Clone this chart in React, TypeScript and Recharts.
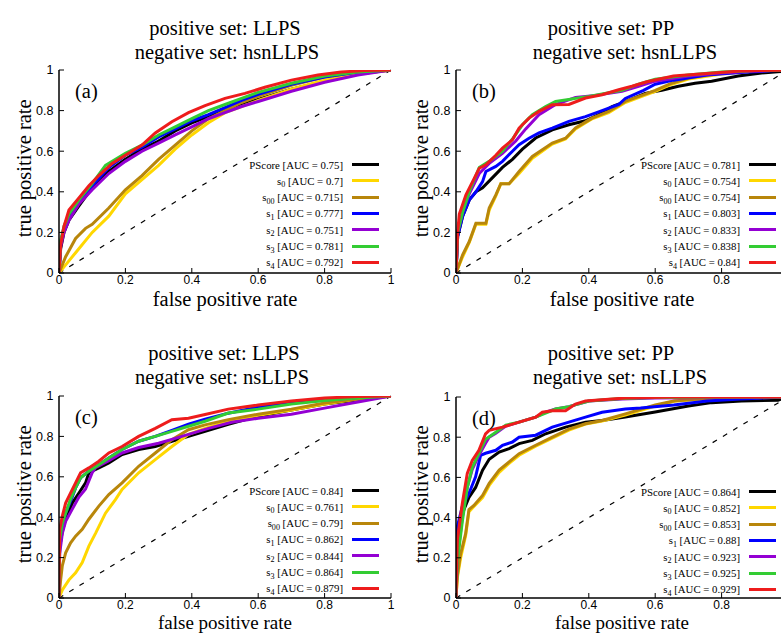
import React from 'react';
import { LineChart, Line, XAxis, YAxis, ReferenceLine } from 'recharts';

type Pt = [number, number];

// series order as drawn (last one on top)
const SERIES_BASE = ['PScore', 's', 's', 's', 's', 's', 's'];
const SERIES_SUB = ['', '0', '00', '1', '2', '3', '4'];
const COLORS = ['#000000', '#ffd700', '#b8860b', '#0000ff', '#9400d3', '#33cc33', '#ee1c1c'];
const TICKS = [0, 0.2, 0.4, 0.6, 0.8, 1];

const aucA = [0.75, 0.7, 0.715, 0.777, 0.751, 0.781, 0.792];
const aucB = [0.781, 0.754, 0.754, 0.803, 0.833, 0.838, 0.84];
const aucC = [0.84, 0.761, 0.79, 0.862, 0.844, 0.864, 0.879];
const aucD = [0.864, 0.852, 0.853, 0.88, 0.923, 0.925, 0.929];

// (a) LLPS vs hsnLLPS
const aPScore: Pt[] = [[0,0],[0.005,0.12],[0.015,0.2],[0.03,0.26],[0.06,0.33],[0.1,0.42],[0.15,0.5],[0.2,0.56],[0.25,0.61],[0.3,0.65],[0.35,0.7],[0.4,0.74],[0.45,0.77],[0.5,0.8],[0.55,0.83],[0.6,0.855],[0.7,0.905],[0.8,0.945],[0.9,0.98],[1,1]];
const aS0: Pt[] = [[0,0],[0.02,0.04],[0.05,0.1],[0.1,0.2],[0.15,0.28],[0.2,0.39],[0.25,0.46],[0.3,0.53],[0.35,0.61],[0.4,0.68],[0.45,0.74],[0.5,0.79],[0.55,0.82],[0.6,0.85],[0.7,0.905],[0.8,0.95],[0.9,0.98],[1,1]];
const aS00: Pt[] = [[0,0],[0.02,0.08],[0.05,0.17],[0.08,0.22],[0.1,0.24],[0.15,0.32],[0.2,0.41],[0.25,0.48],[0.3,0.56],[0.35,0.63],[0.4,0.7],[0.45,0.76],[0.5,0.8],[0.55,0.84],[0.6,0.87],[0.7,0.925],[0.8,0.965],[0.9,0.99],[1,1]];
const aS1: Pt[] = [[0,0],[0.005,0.15],[0.015,0.22],[0.03,0.28],[0.06,0.35],[0.1,0.43],[0.15,0.52],[0.2,0.58],[0.25,0.62],[0.3,0.67],[0.35,0.71],[0.4,0.75],[0.45,0.78],[0.5,0.815],[0.55,0.85],[0.6,0.88],[0.7,0.93],[0.8,0.965],[0.9,0.99],[1,1]];
const aS2: Pt[] = [[0,0],[0.005,0.13],[0.015,0.2],[0.03,0.26],[0.06,0.34],[0.1,0.41],[0.15,0.49],[0.2,0.55],[0.25,0.6],[0.3,0.64],[0.35,0.68],[0.4,0.72],[0.45,0.76],[0.5,0.79],[0.55,0.82],[0.6,0.845],[0.7,0.895],[0.8,0.94],[0.9,0.975],[1,1]];
const aS3: Pt[] = [[0,0],[0.005,0.16],[0.015,0.23],[0.03,0.29],[0.06,0.36],[0.1,0.44],[0.14,0.53],[0.2,0.59],[0.25,0.63],[0.3,0.68],[0.35,0.72],[0.4,0.76],[0.45,0.8],[0.5,0.83],[0.55,0.86],[0.6,0.89],[0.7,0.935],[0.8,0.97],[0.9,0.99],[1,1]];
const aS4: Pt[] = [[0,0],[0.005,0.14],[0.015,0.23],[0.03,0.31],[0.06,0.37],[0.09,0.43],[0.12,0.48],[0.16,0.54],[0.2,0.58],[0.25,0.63],[0.29,0.69],[0.34,0.745],[0.39,0.79],[0.44,0.825],[0.5,0.86],[0.56,0.885],[0.62,0.915],[0.7,0.95],[0.78,0.975],[0.85,0.99],[0.92,0.997],[1,1]];

// (b) PP vs hsnLLPS
const bPScore: Pt[] = [[0,0],[0.005,0.18],[0.02,0.28],[0.04,0.36],[0.06,0.4],[0.08,0.42],[0.11,0.47],[0.14,0.52],[0.17,0.56],[0.2,0.61],[0.24,0.665],[0.29,0.705],[0.34,0.73],[0.39,0.75],[0.43,0.78],[0.47,0.82],[0.52,0.85],[0.57,0.885],[0.62,0.9],[0.67,0.92],[0.72,0.935],[0.77,0.945],[0.85,0.97],[0.92,0.985],[0.98,0.993],[1,1]];
const bS0: Pt[] = [[0,0],[0.02,0.08],[0.04,0.15],[0.06,0.24],[0.09,0.24],[0.1,0.31],[0.12,0.38],[0.135,0.44],[0.16,0.44],[0.19,0.49],[0.23,0.565],[0.29,0.635],[0.33,0.66],[0.36,0.71],[0.41,0.76],[0.46,0.79],[0.51,0.84],[0.56,0.87],[0.6,0.895],[0.65,0.93],[0.7,0.955],[0.8,0.98],[0.9,0.995],[1,1]];
const bS00: Pt[] = [[0,0],[0.02,0.09],[0.04,0.155],[0.06,0.245],[0.09,0.245],[0.1,0.32],[0.12,0.385],[0.135,0.44],[0.16,0.44],[0.19,0.5],[0.23,0.574],[0.29,0.64],[0.33,0.664],[0.36,0.714],[0.41,0.763],[0.46,0.796],[0.51,0.845],[0.56,0.875],[0.6,0.9],[0.65,0.935],[0.7,0.96],[0.8,0.985],[0.9,0.995],[1,1]];
const bS1: Pt[] = [[0,0],[0.005,0.18],[0.02,0.28],[0.04,0.36],[0.06,0.4],[0.08,0.45],[0.09,0.5],[0.12,0.525],[0.14,0.55],[0.17,0.6],[0.19,0.632],[0.22,0.664],[0.25,0.69],[0.29,0.714],[0.34,0.747],[0.39,0.77],[0.44,0.8],[0.49,0.83],[0.51,0.86],[0.565,0.9],[0.6,0.93],[0.655,0.95],[0.755,0.975],[0.856,0.988],[1,1]];
const bS2: Pt[] = [[0,0],[0.005,0.2],[0.02,0.3],[0.04,0.39],[0.07,0.49],[0.1,0.54],[0.14,0.59],[0.18,0.65],[0.21,0.71],[0.25,0.78],[0.3,0.83],[0.36,0.865],[0.42,0.875],[0.5,0.895],[0.55,0.92],[0.6,0.945],[0.7,0.97],[0.8,0.985],[0.9,0.995],[1,1]];
const bS3: Pt[] = [[0,0],[0.005,0.2],[0.02,0.3],[0.04,0.4],[0.07,0.52],[0.1,0.55],[0.14,0.6],[0.17,0.66],[0.2,0.73],[0.23,0.78],[0.27,0.82],[0.3,0.845],[0.4,0.87],[0.5,0.9],[0.55,0.93],[0.6,0.955],[0.7,0.975],[0.8,0.99],[0.9,0.997],[1,1]];
const bS4: Pt[] = [[0,0],[0.005,0.2],[0.01,0.29],[0.03,0.385],[0.05,0.45],[0.07,0.516],[0.09,0.533],[0.12,0.58],[0.14,0.615],[0.17,0.656],[0.19,0.714],[0.22,0.763],[0.25,0.796],[0.29,0.829],[0.34,0.83],[0.39,0.862],[0.44,0.878],[0.49,0.903],[0.53,0.92],[0.575,0.942],[0.655,0.97],[0.755,0.983],[0.856,0.995],[1,1]];

// (c) LLPS vs nsLLPS
const cPScore: Pt[] = [[0,0],[0.002,0.25],[0.01,0.33],[0.02,0.39],[0.04,0.47],[0.06,0.52],[0.08,0.57],[0.09,0.62],[0.12,0.644],[0.15,0.669],[0.19,0.71],[0.24,0.735],[0.29,0.75],[0.34,0.776],[0.39,0.8],[0.44,0.825],[0.51,0.86],[0.6,0.9],[0.7,0.93],[0.8,0.96],[0.9,0.98],[1,1]];
const cS0: Pt[] = [[0,0],[0.01,0.04],[0.03,0.09],[0.05,0.125],[0.07,0.175],[0.09,0.257],[0.11,0.32],[0.14,0.42],[0.17,0.487],[0.19,0.537],[0.24,0.62],[0.29,0.685],[0.34,0.75],[0.39,0.81],[0.44,0.84],[0.51,0.875],[0.6,0.905],[0.7,0.93],[0.8,0.96],[0.9,0.985],[1,1]];
const cS00: Pt[] = [[0,0],[0.005,0.09],[0.01,0.16],[0.02,0.224],[0.035,0.273],[0.05,0.306],[0.07,0.34],[0.09,0.39],[0.12,0.455],[0.15,0.512],[0.19,0.57],[0.24,0.652],[0.29,0.718],[0.34,0.784],[0.39,0.833],[0.44,0.857],[0.51,0.883],[0.6,0.91],[0.7,0.935],[0.8,0.965],[0.9,0.985],[1,1]];
const cS1: Pt[] = [[0,0],[0.002,0.28],[0.01,0.36],[0.02,0.42],[0.04,0.5],[0.05,0.545],[0.065,0.595],[0.09,0.628],[0.12,0.66],[0.15,0.693],[0.19,0.735],[0.24,0.776],[0.29,0.8],[0.34,0.83],[0.39,0.86],[0.44,0.885],[0.51,0.915],[0.6,0.945],[0.7,0.965],[0.8,0.98],[0.9,0.993],[1,1]];
const cS2: Pt[] = [[0,0],[0.002,0.22],[0.01,0.32],[0.02,0.38],[0.04,0.44],[0.06,0.5],[0.08,0.54],[0.1,0.62],[0.11,0.645],[0.15,0.68],[0.19,0.718],[0.24,0.745],[0.3,0.766],[0.35,0.79],[0.4,0.815],[0.45,0.84],[0.52,0.87],[0.6,0.89],[0.7,0.91],[0.8,0.94],[0.9,0.97],[1,1]];
const cS3: Pt[] = [[0,0],[0.002,0.29],[0.01,0.37],[0.02,0.42],[0.035,0.49],[0.05,0.545],[0.065,0.595],[0.09,0.628],[0.12,0.66],[0.15,0.693],[0.19,0.735],[0.24,0.776],[0.29,0.8],[0.34,0.825],[0.39,0.85],[0.44,0.875],[0.51,0.916],[0.6,0.935],[0.7,0.96],[0.8,0.978],[0.9,0.99],[1,1]];
const cS4: Pt[] = [[0,0],[0.002,0.34],[0.01,0.405],[0.02,0.47],[0.035,0.52],[0.05,0.57],[0.065,0.62],[0.09,0.644],[0.12,0.677],[0.15,0.718],[0.19,0.75],[0.24,0.8],[0.29,0.84],[0.34,0.883],[0.39,0.89],[0.44,0.908],[0.51,0.935],[0.6,0.955],[0.7,0.975],[0.8,0.99],[0.9,0.997],[1,1]];

// (d) PP vs nsLLPS
const dPScore: Pt[] = [[0,0],[0.004,0.25],[0.019,0.42],[0.039,0.5],[0.059,0.55],[0.08,0.636],[0.1,0.69],[0.13,0.726],[0.16,0.743],[0.19,0.768],[0.23,0.784],[0.27,0.817],[0.33,0.85],[0.39,0.875],[0.44,0.883],[0.51,0.9],[0.6,0.925],[0.7,0.955],[0.77,0.972],[0.86,0.98],[0.97,0.984],[1,1]];
const dS0: Pt[] = [[0,0],[0.004,0.1],[0.014,0.2],[0.029,0.31],[0.039,0.43],[0.054,0.455],[0.08,0.5],[0.1,0.56],[0.13,0.625],[0.16,0.67],[0.19,0.71],[0.24,0.755],[0.29,0.795],[0.34,0.835],[0.39,0.865],[0.44,0.88],[0.51,0.91],[0.6,0.955],[0.66,0.98],[0.75,0.99],[1,1]];
const dS00: Pt[] = [[0,0],[0.004,0.11],[0.014,0.22],[0.029,0.32],[0.039,0.44],[0.054,0.46],[0.08,0.51],[0.1,0.57],[0.13,0.636],[0.16,0.677],[0.19,0.718],[0.24,0.76],[0.29,0.8],[0.34,0.84],[0.39,0.867],[0.44,0.883],[0.51,0.916],[0.6,0.96],[0.656,0.98],[0.75,0.993],[1,1]];
const dS1: Pt[] = [[0,0],[0.004,0.355],[0.019,0.455],[0.039,0.52],[0.059,0.603],[0.074,0.71],[0.089,0.72],[0.12,0.735],[0.14,0.76],[0.17,0.776],[0.19,0.8],[0.24,0.81],[0.29,0.85],[0.34,0.875],[0.39,0.9],[0.44,0.924],[0.51,0.94],[0.556,0.945],[0.656,0.96],[0.756,0.98],[0.857,0.99],[1,1]];
const dS2: Pt[] = [[0,0],[0.004,0.2],[0.019,0.4],[0.034,0.55],[0.049,0.64],[0.069,0.71],[0.089,0.77],[0.1,0.8],[0.12,0.82],[0.15,0.855],[0.19,0.875],[0.24,0.9],[0.27,0.925],[0.3,0.94],[0.34,0.952],[0.4,0.98],[0.5,0.99],[0.6,0.995],[1,1]];
const dS3: Pt[] = [[0,0],[0.004,0.18],[0.019,0.38],[0.034,0.55],[0.049,0.65],[0.069,0.72],[0.089,0.79],[0.12,0.825],[0.15,0.86],[0.19,0.875],[0.24,0.9],[0.3,0.94],[0.34,0.952],[0.4,0.98],[0.5,0.993],[0.6,0.997],[1,1]];
const dS4: Pt[] = [[0,0],[0.004,0.29],[0.019,0.47],[0.034,0.62],[0.049,0.685],[0.069,0.735],[0.089,0.817],[0.1,0.834],[0.14,0.85],[0.19,0.875],[0.24,0.9],[0.26,0.924],[0.29,0.932],[0.33,0.932],[0.36,0.965],[0.39,0.98],[0.51,0.995],[0.65,1],[1,1]];

const SERIF = '"Liberation Serif", "Times New Roman", serif';
const SANS = '"Liberation Sans", Arial, sans-serif';

const toRows = (pts: Pt[]) => pts.map(([x, y]) => ({ x, y }));

// right-hand panels are cut by the page edge, so their "1" x label is not shown
const panels = [
  { letter: '(a)', pos: 'LLPS', neg: 'hsnLLPS', auc: aucA, curves: [aPScore, aS0, aS00, aS1, aS2, aS3, aS4],
    left: 0, top: 0, h: 320, plotLeft: 59, plotTop: 70, plotH: 203, t1: 225, t2: 227, ty: 28, cut: false },
  { letter: '(b)', pos: 'PP', neg: 'hsnLLPS', auc: aucB, curves: [bPScore, bS0, bS00, bS1, bS2, bS3, bS4],
    left: 390, top: 0, h: 320, plotLeft: 66, plotTop: 70, plotH: 203, t1: 221, t2: 235, ty: 28, cut: true },
  { letter: '(c)', pos: 'LLPS', neg: 'nsLLPS', auc: aucC, curves: [cPScore, cS0, cS00, cS1, cS2, cS3, cS4],
    left: 0, top: 320, h: 313, plotLeft: 59, plotTop: 76, plotH: 202, t1: 224, t2: 222, ty: 33, cut: false },
  { letter: '(d)', pos: 'PP', neg: 'nsLLPS', auc: aucD, curves: [dPScore, dS0, dS00, dS1, dS2, dS3, dS4],
    left: 390, top: 320, h: 313, plotLeft: 66, plotTop: 77, plotH: 201, t1: 221, t2: 230, ty: 33, cut: true },
];

const PLOT_W = 332;
const CHART_W = 400;

const centered = (x: number, y: number, size: number): React.CSSProperties => ({
  position: 'absolute', left: x - 200, top: y - size * 0.5, width: 400, textAlign: 'center',
  fontFamily: SERIF, fontSize: size, lineHeight: `${size}px`, whiteSpace: 'nowrap', color: '#000',
});

const Panel = ({ p }: { p: typeof panels[number] }) => {
  const right = CHART_W - p.plotLeft - PLOT_W;
  const bottom = p.h - p.plotTop - p.plotH - 30;
  const textEnd = p.plotLeft + PLOT_W - 48;
  // on the bottom row the x title sits against the page edge: slightly smaller so it stays inside
  const lowRow = p.plotTop + p.plotH + 26 > p.h - 11;
  const xTitleSize = lowRow ? 19 : 20.5;
  const xTitleY = lowRow ? p.h - 10.5 : p.plotTop + p.plotH + 26;
  return (
    <div style={{ position: 'absolute', left: p.left, top: p.top, width: CHART_W, height: p.h }}>
      <div style={centered(p.t1, p.ty, 20.5)}>positive set: {p.pos}</div>
      <div style={centered(p.t2, p.ty + 24, 20.5)}>negative set: {p.neg}</div>
      <LineChart width={CHART_W} height={p.h} margin={{ top: p.plotTop, right, left: 0, bottom }}>
        <XAxis dataKey="x" type="number" domain={[0, 1]} ticks={TICKS} interval={0} allowDataOverflow height={30}
          tickSize={-5} tickMargin={7.5} axisLine={{ stroke: '#000', strokeWidth: 1.5 }} tickLine={{ stroke: '#000' }}
          tickFormatter={(v: number) => (p.cut && v === 1 ? '' : String(v))}
          tick={{ fill: '#000', fontSize: 12, fontFamily: SANS }} />
        <XAxis xAxisId="top" orientation="top" type="number" domain={[0, 1]} ticks={TICKS} interval={0} height={0}
          tickSize={-5} tick={false} axisLine={{ stroke: '#000', strokeWidth: 1.5 }} tickLine={{ stroke: '#000' }} />
        <YAxis type="number" domain={[0, 1]} ticks={TICKS} interval={0} allowDataOverflow width={p.plotLeft}
          tickSize={-5} tickMargin={10.5} axisLine={{ stroke: '#000', strokeWidth: 1.5 }} tickLine={{ stroke: '#000' }}
          tick={{ fill: '#000', fontSize: 12.5, fontFamily: SANS }} />
        <YAxis yAxisId="right" orientation="right" type="number" domain={[0, 1]} ticks={TICKS} interval={0} width={0}
          tickSize={-5} tick={false} axisLine={{ stroke: '#000', strokeWidth: 1.5 }} tickLine={{ stroke: '#000' }} />
        <ReferenceLine segment={[{ x: 0, y: 0 }, { x: 1, y: 1 }]} stroke="#000" strokeWidth={1.2} strokeDasharray="5 7" />
        {p.curves.map((c, i) => (
          <Line key={i} data={toRows(c)} dataKey="y" type="linear" stroke={COLORS[i]} strokeWidth={3}
            dot={false} activeDot={false} isAnimationActive={false} />
        ))}
      </LineChart>
      <div style={{ position: 'absolute', left: p.plotLeft + 16, top: p.plotTop + 21 - 12,
        fontFamily: SERIF, fontSize: 20.5, lineHeight: '24px' }}>{p.letter}</div>
      <div style={centered(p.plotLeft + PLOT_W / 2, xTitleY, xTitleSize)}>false positive rate</div>
      <div style={{ ...centered(p.plotLeft - 35, p.plotTop + p.plotH / 2 - 3, 20.5), transform: 'rotate(-90deg)' }}>
        true positive rate
      </div>
      {SERIES_BASE.map((b, i) => {
        const cy = p.plotTop + 94.5 + i * 16.33;
        return (
          <React.Fragment key={i}>
            <div style={{ position: 'absolute', right: CHART_W - textEnd, top: cy - 7, lineHeight: '14px',
              fontFamily: SERIF, fontSize: 10.8, whiteSpace: 'nowrap', color: '#000' }}>
              {b}
              {SERIES_SUB[i] && (
                <span style={{ fontSize: '0.75em', position: 'relative', top: '0.3em' }}>{SERIES_SUB[i]}</span>
              )}
              {` [AUC = ${p.auc[i]}]`}
            </div>
            <div style={{ position: 'absolute', left: textEnd + 9, top: cy - 1.5, width: 27, height: 3,
              background: COLORS[i] }} />
          </React.Fragment>
        );
      })}
    </div>
  );
};

export default function App() {
  return (
    <div style={{ position: 'absolute', left: 0, top: 0, width: 781, height: 633, overflow: 'hidden',
      background: '#fff' }}>
      {panels.map((p) => <Panel key={p.letter} p={p} />)}
    </div>
  );
}
